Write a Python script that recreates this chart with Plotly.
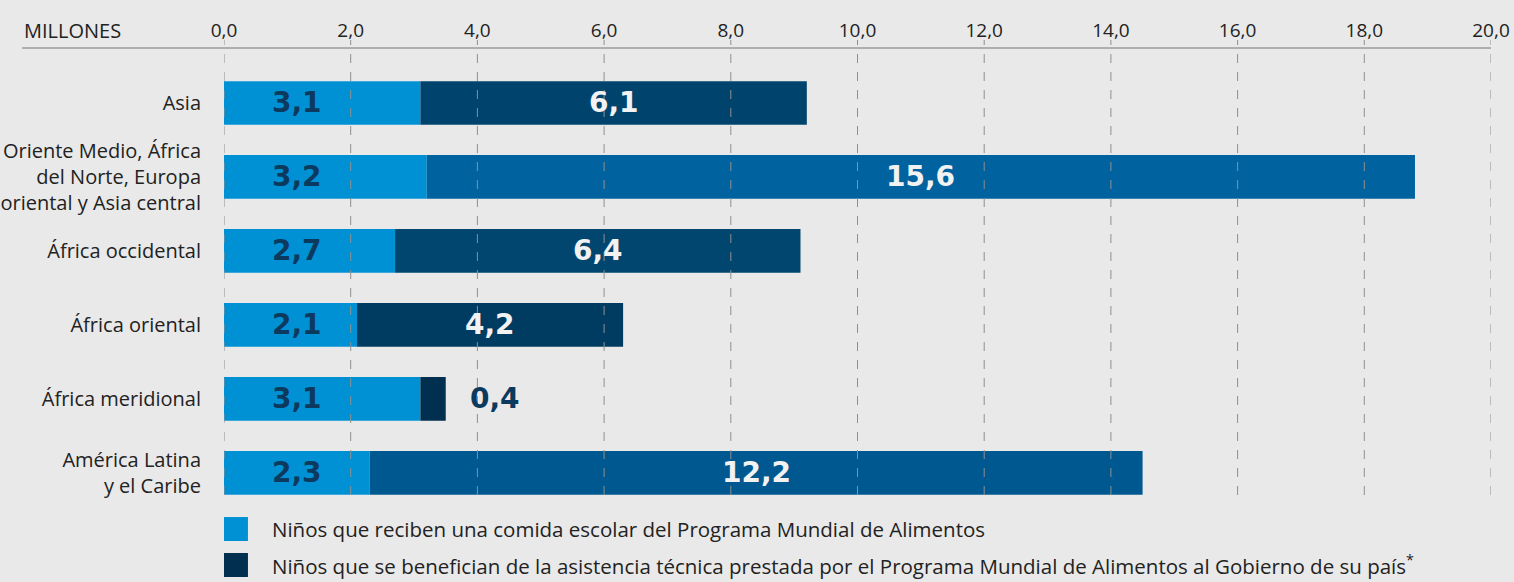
import plotly.graph_objects as go

# ---------------- data ----------------
categories = [
    "Asia",
    "Oriente Medio, África<br>del Norte, Europa<br>oriental y Asia central",
    "África occidental",
    "África oriental",
    "África meridional",
    "América Latina<br>y el Caribe",
]
comida_escolar = [3.1, 3.2, 2.7, 2.1, 3.1, 2.3]
asistencia_tecnica = [6.1, 15.6, 6.4, 4.2, 0.4, 12.2]
tick_values = [0, 2, 4, 6, 8, 10, 12, 14, 16, 18, 20]
tick_labels = ["0,0", "2,0", "4,0", "6,0", "8,0", "10,0", "12,0", "14,0", "16,0", "18,0", "20,0"]
legend_labels = [
    "Niños que reciben una comida escolar del Programa Mundial de Alimentos",
    "Niños que se benefician de la asistencia técnica prestada por el Programa Mundial de Alimentos al Gobierno de su país<sup>*</sup>",
]

# ---------------- styles ----------------
BG = "#e9e9e9"
LIGHT = "#0091d5"
DARK = "#002f4f"
# approximate the dark-to-blue gradient with a per-bar mean colour
dark_bar_colors = ["#00446e", "#0063a0", "#00466f", "#003b61", "#002f4f", "#005891"]
LABEL_DARK = "#0b3a5e"
FONT = "Open Sans"
NUM_FONT = "DejaVu Sans"

def fmt(v):
    return f"{v:.1f}".replace(".", ",")

ypos = list(range(len(categories)))

fig = go.Figure()
fig.add_trace(go.Bar(
    y=ypos, x=comida_escolar, orientation="h", base=0,
    marker=dict(color=LIGHT, line=dict(width=0)), width=0.59,
    name=legend_labels[0], showlegend=False, hoverinfo="x",
))
fig.add_trace(go.Bar(
    y=ypos, x=asistencia_tecnica, orientation="h", base=comida_escolar,
    marker=dict(color=dark_bar_colors, line=dict(width=0)), width=0.59,
    name=legend_labels[1], showlegend=False, hoverinfo="x",
))

annotations = []
# first-segment labels
for y, v in zip(ypos, comida_escolar):
    annotations.append(dict(
        x=1.15, y=y, xref="x", yref="y", text=f"<b>{fmt(v)}</b>", showarrow=False,
        font=dict(family=NUM_FONT, size=28, color=LABEL_DARK), xanchor="center", yanchor="middle",
    ))
# second-segment labels
for y, a, b in zip(ypos, comida_escolar, asistencia_tecnica):
    if b >= 1.5:
        annotations.append(dict(
            x=a + b / 2, y=y, xref="x", yref="y", text=f"<b>{fmt(b)}</b>", showarrow=False,
            font=dict(family=NUM_FONT, size=28, color="#f2f2f2"), xanchor="center", yanchor="middle",
        ))
    else:
        annotations.append(dict(
            x=a + b, y=y, xref="x", yref="y", text=f"<b>{fmt(b)}</b>", showarrow=False,
            font=dict(family=NUM_FONT, size=28, color=LABEL_DARK), xanchor="left", yanchor="middle",
            xshift=22,
        ))

annotations.append(dict(
    x=-0.1594, y=1.040, xref="paper", yref="paper", text="MILLONES", showarrow=False,
    xanchor="left", yanchor="middle", font=dict(family=FONT, size=20, color="#222"),
))

shapes = []
# gridlines drawn above the bars
for t in tick_values:
    shapes.append(dict(
        type="line", xref="x", yref="paper", x0=t, x1=t, y0=0, y1=1.018,
        line=dict(color="#8f8f8f", width=1, dash="dash"), layer="above",
    ))
# top axis line
shapes.append(dict(
    type="line", xref="paper", yref="paper", x0=-0.1594, x1=1, y0=1, y1=1,
    line=dict(color="#9a9a9a", width=1.5), layer="above",
))

# manual legend
legend_colors = [LIGHT, DARK]
legend_y = [-0.0761, -0.1566]
for c, yc, lab in zip(legend_colors, legend_y, legend_labels):
    shapes.append(dict(
        type="rect", xref="paper", yref="paper", x0=0, x1=0.0189,
        y0=yc - 0.0268, y1=yc + 0.0268, fillcolor=c, line=dict(width=0),
    ))
    annotations.append(dict(
        x=0.0363, y=yc, xref="paper", yref="paper", text=lab, showarrow=False,
        xanchor="left", yanchor="middle", font=dict(family=FONT, size=20.5, color="#222"),
    ))

fig.update_layout(
    width=1514, height=582,
    paper_bgcolor=BG, plot_bgcolor=BG,
    barmode="overlay",
    margin=dict(l=224, r=23, t=48, b=87, autoexpand=False),
    showlegend=False,
    font=dict(family=FONT, size=18, color="#222"),
    xaxis=dict(
        side="top", range=[0, 20], tickvals=tick_values, ticktext=tick_labels,
        showgrid=False, zeroline=False, showline=False, ticks="",
        tickfont=dict(family=FONT, size=19, color="#222"), ticklabelstandoff=6,
        fixedrange=True, automargin=False,
    ),
    yaxis=dict(
        range=[5.3, -0.743], tickvals=ypos, ticktext=categories,
        showgrid=False, zeroline=False, showline=False, ticks="",
        tickfont=dict(family=FONT, size=20, color="#222"), ticklabelstandoff=22,
        fixedrange=True, automargin=False,
    ),
    shapes=shapes,
    annotations=annotations,
)

fig.write_html(
    "out.html",
    config={"displayModeBar": False},
    post_script="document.body.style.margin='0';document.body.style.padding='0';",
)
